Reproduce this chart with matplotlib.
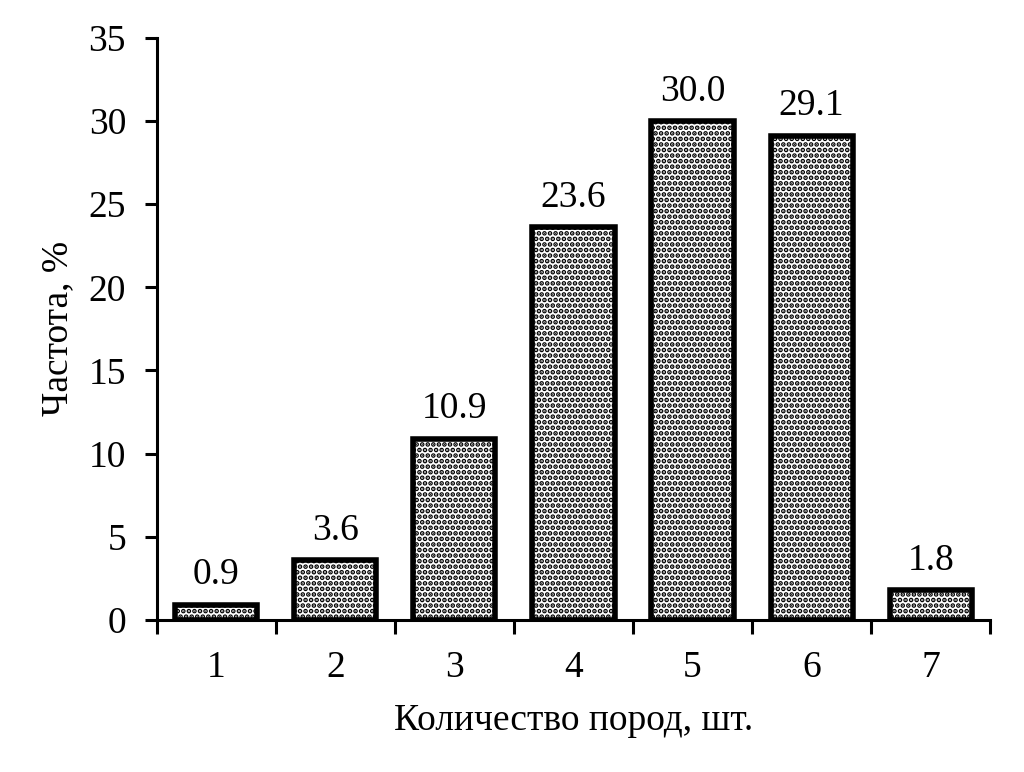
import matplotlib
matplotlib.use("Agg")
import matplotlib.pyplot as plt
import numpy as np

categories = ["1", "2", "3", "4", "5", "6", "7"]
values = [0.9, 3.6, 10.9, 23.6, 30.0, 29.1, 1.8]
value_labels = ["0.9", "3.6", "10.9", "23.6", "30.0", "29.1", "1.8"]

plt.rcParams["font.family"] = ["Liberation Serif", "DejaVu Serif"]
plt.rcParams["hatch.linewidth"] = 2.4

fig = plt.figure(figsize=(10.24, 7.72), dpi=100)
ax = fig.add_axes([0.153, 0.197, 0.814, 0.754])

x = np.arange(1, len(categories) + 1)
bars = ax.bar(x, values, width=0.69, facecolor="white", edgecolor="black",
              linewidth=4, hatch="...", zorder=2)

for xi, v, lab in zip(x, values, value_labels):
    ax.text(xi, v + 0.75, lab, ha="center", va="bottom", fontsize=27)

ax.set_xlim(0.5, 7.5)
ax.set_ylim(0, 35)
ax.set_yticks(np.arange(0, 36, 5))
ax.set_xticks(x)
ax.set_xticklabels(categories)
ax.set_xticks(np.arange(0.5, 7.6, 1), minor=True)

ax.spines["top"].set_visible(False)
ax.spines["right"].set_visible(False)
ax.spines["left"].set_linewidth(2.2)
ax.spines["bottom"].set_linewidth(2.2)

ax.tick_params(axis="y", direction="out", length=9, width=2.2, labelsize=27, pad=13)
ax.tick_params(axis="x", which="major", length=0, labelsize=27, pad=22)
ax.tick_params(axis="x", which="minor", direction="out", length=10, width=2.2)

ax.set_xlabel("Количество пород, шт.", fontsize=27, labelpad=13)
ax.set_ylabel("Частота, %", fontsize=27, labelpad=10)

fig.savefig("out.png", dpi=100)
